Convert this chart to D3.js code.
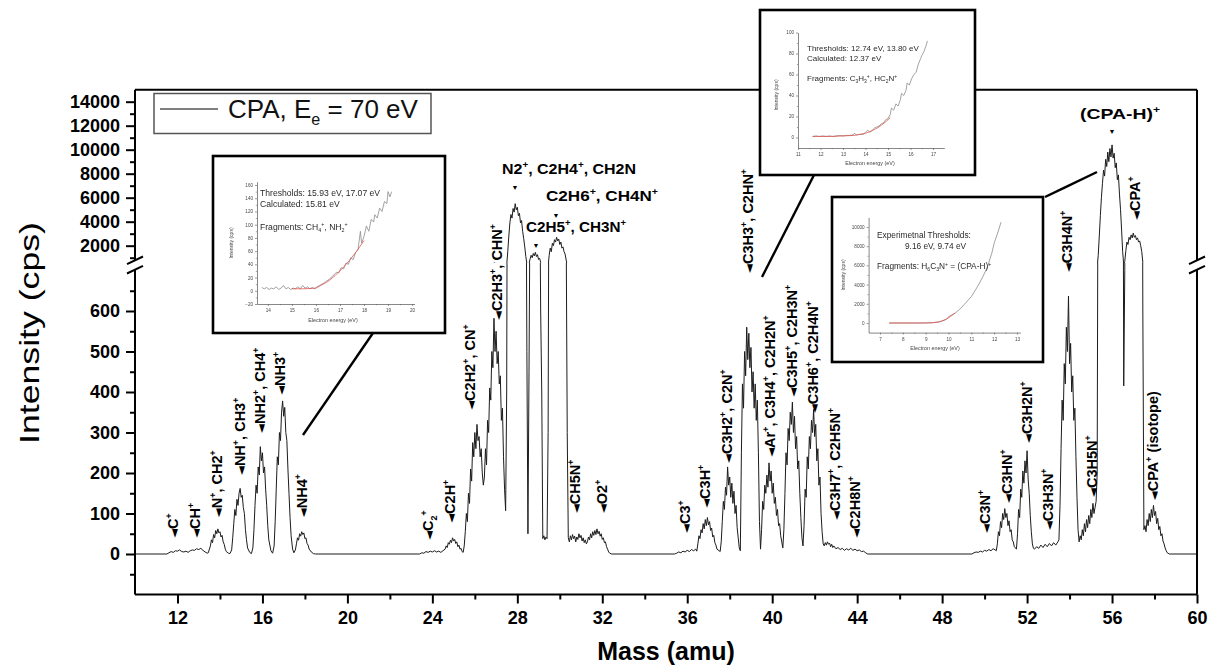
<!DOCTYPE html>
<html>
<head>
<meta charset="utf-8">
<script src="https://cdn.jsdelivr.net/npm/d3@7"></script>
<style>
  body { margin: 0; background: #fff; }
  svg { display: block; }
  text { font-family: "Liberation Sans", Arial, "DejaVu Sans", sans-serif; }
</style>
</head>
<body>
<svg id="chart" width="1208" height="665"></svg>
<script>
// ---------- Mass spectrum of CPA at 70 eV: [mass (amu), intensity (cps)] ----------
const lightIonPeaks = [
  [10.0,0],[11.5,0],[11.6,3],[11.7,6],[11.8,4],[11.9,8],[12.0,7],[12.1,10],[12.2,6],[12.3,5],[12.4,7],[12.5,4],
  [12.6,8],[12.7,10],[12.8,9],[12.9,13],[13.0,11],[13.1,14],[13.2,9],[13.3,5],[13.4,2],
  [13.45,3],[13.55,20],[13.6,35],[13.65,28],[13.7,48],[13.75,40],[13.8,58],[13.85,50],[13.9,62],[13.95,52],[14.0,55],
  [14.05,42],[14.1,46],[14.15,30],[14.2,24],[14.25,12],[14.3,6],[14.4,2],[14.47,1],
  [14.55,10],[14.6,40],[14.65,75],[14.7,110],[14.75,95],[14.8,135],[14.85,120],[14.9,150],[14.95,162],[15.0,140],
  [15.05,145],[15.1,115],[15.15,100],[15.2,60],[15.25,35],[15.3,15],[15.4,4],[15.48,1],
  [15.55,15],[15.6,60],[15.65,120],[15.7,170],[15.75,150],[15.8,215],[15.85,195],[15.9,265],[15.95,230],[16.0,250],
  [16.05,200],[16.1,215],[16.15,160],[16.2,120],[16.25,70],[16.3,35],[16.4,8],[16.48,2],
  [16.55,20],[16.6,80],[16.65,160],[16.7,240],[16.75,220],[16.8,300],[16.85,280],[16.9,350],[16.95,378],[17.0,340],
  [17.05,362],[17.1,300],[17.15,280],[17.2,210],[17.25,150],[17.3,90],[17.35,45],[17.42,12],[17.48,3],
  [17.55,10],[17.6,25],[17.65,40],[17.7,34],[17.75,50],[17.8,44],[17.85,55],[17.9,48],[17.95,52],[18.0,38],
  [18.05,40],[18.1,26],[18.15,22],[18.2,12],[18.3,5],[18.4,1],[18.5,0]
];
const c2Peaks = [
  [23.4,0],[23.5,3],[23.6,2],[23.7,6],[23.8,4],[23.9,7],[24.0,5],[24.1,8],[24.2,5],[24.3,7],[24.4,4],[24.5,8],
  [24.6,12],[24.65,20],[24.7,16],[24.75,28],[24.8,24],[24.85,34],[24.9,28],[24.95,40],[25.0,32],[25.05,36],[25.1,26],
  [25.15,30],[25.2,18],[25.25,22],[25.3,12],[25.35,14],[25.4,6],[25.45,4],
  [25.5,20],[25.55,55],[25.6,100],[25.65,80],[25.7,150],[25.75,125],[25.8,210],[25.85,180],[25.9,275],[25.95,240],
  [26.0,300],[26.05,260],[26.1,320],[26.15,280],[26.2,290],[26.25,240],[26.3,260],[26.35,200],[26.4,170],
  [26.45,190],[26.5,260],[26.55,220],[26.6,330],[26.65,300],[26.7,410],[26.75,380],[26.8,500],[26.85,460],[26.9,582],
  [26.95,500],[27.0,550],[27.05,470],[27.1,500],[27.15,420],[27.2,440],[27.25,330],[27.3,360],[27.35,240],[27.4,160],[27.45,107],
  [27.5,400],[27.55,1500],[27.6,2800],[27.65,3900],[27.7,4600],[27.75,4300],[27.8,5100],[27.85,4800],[27.9,5500],
  [27.95,5000],[28.0,5200],[28.05,4500],[28.1,4700],[28.15,3900],[28.2,4100],[28.25,3200],[28.3,2600],[28.35,1900],
  [28.4,1100],[28.45,500],[28.5,50],
  [28.55,450],[28.6,900],[28.65,1200],[28.7,1000],[28.75,1350],[28.8,1150],[28.85,1450],[28.9,1100],[28.95,1250],
  [29.0,850],[29.05,950],[29.1,600],[29.15,400],[29.2,38],[29.25,45],[29.3,35],[29.35,42],[29.4,38],[29.45,300],
  [29.5,1200],[29.55,1800],[29.6,1500],[29.65,2200],[29.7,2000],[29.75,2500],[29.8,2300],[29.85,2700],[29.9,2400],
  [29.95,2550],[30.0,2100],[30.05,2300],[30.1,1800],[30.15,1900],[30.2,1500],[30.25,1300],[30.3,800],[30.35,300],[30.4,40],
  [30.45,30],[30.5,45],[30.55,35],[30.6,48],[30.65,38],[30.7,44],[30.75,30],[30.8,42],[30.85,36],[30.9,50],[30.95,40],
  [31.0,46],[31.05,32],[31.1,40],[31.15,28],[31.2,35],[31.25,25],
  [31.3,30],[31.35,42],[31.4,35],[31.45,50],[31.5,40],[31.55,55],[31.6,46],[31.65,58],[31.7,48],[31.75,62],[31.8,50],
  [31.85,56],[31.9,44],[31.95,50],[32.0,36],[32.05,40],[32.1,28],[32.15,30],[32.2,18],[32.25,12],[32.3,5],[32.35,2],[32.45,0]
];
const c3Peaks = [
  [35.4,0],[35.5,2],[35.6,5],[35.7,3],[35.8,7],[35.9,5],[36.0,9],[36.1,6],[36.2,11],[36.3,8],[36.4,12],[36.45,7],
  [36.5,25],[36.55,45],[36.6,38],[36.65,60],[36.7,52],[36.75,75],[36.8,62],[36.85,85],[36.9,70],[36.95,90],[37.0,72],
  [37.05,80],[37.1,58],[37.15,64],[37.2,42],[37.25,46],[37.3,28],[37.35,22],[37.4,12],[37.5,8],[37.55,6],
  [37.6,30],[37.65,80],[37.7,130],[37.75,110],[37.8,165],[37.85,145],[37.9,215],[37.95,170],[38.0,190],[38.05,140],
  [38.1,175],[38.15,125],[38.2,155],[38.25,100],[38.3,120],[38.35,65],[38.4,40],[38.45,15],[38.5,8],
  [38.55,250],[38.6,420],[38.65,360],[38.7,500],[38.75,440],[38.8,560],[38.85,480],[38.9,545],[38.95,460],[39.0,510],
  [39.05,400],[39.1,450],[39.15,360],[39.2,420],[39.25,330],[39.3,380],[39.35,250],[39.4,80],[39.45,12],
  [39.5,60],[39.55,130],[39.6,110],[39.65,170],[39.7,150],[39.75,195],[39.8,165],[39.85,225],[39.9,180],[39.95,205],
  [40.0,150],[40.05,175],[40.1,125],[40.15,140],[40.2,95],[40.25,110],[40.3,70],[40.35,75],[40.4,45],[40.45,30],[40.5,15],
  [40.55,60],[40.6,150],[40.65,250],[40.7,220],[40.75,310],[40.8,280],[40.85,350],[40.9,320],[40.95,375],[41.0,300],
  [41.05,340],[41.1,260],[41.15,290],[41.2,210],[41.25,230],[41.3,150],[41.35,90],[41.4,40],[41.45,20],
  [41.5,70],[41.55,160],[41.6,140],[41.65,240],[41.7,210],[41.75,290],[41.8,260],[41.85,330],[41.9,300],[41.95,357],
  [42.0,290],[42.05,320],[42.1,230],[42.15,260],[42.2,170],[42.25,190],[42.3,100],[42.35,55],[42.4,25],
  [42.45,20],[42.5,28],[42.55,22],[42.6,30],[42.65,24],[42.7,27],[42.75,18],[42.8,24],[42.85,16],[42.9,20],[43.0,13],
  [43.1,16],[43.2,11],[43.3,14],
  [43.4,9],[43.5,13],[43.6,10],[43.7,14],[43.8,9],[43.9,12],[44.0,8],[44.1,10],[44.2,6],[44.3,7],[44.4,3],[44.5,0]
];
const c3nPeaks = [
  [49.4,0],[49.5,3],[49.6,5],[49.7,4],[49.8,7],[49.9,5],[50.0,9],[50.1,7],[50.2,11],[50.3,8],[50.4,13],[50.5,10],[50.55,8],
  [50.6,25],[50.65,55],[50.7,45],[50.75,80],[50.8,65],[50.85,100],[50.9,85],[50.95,112],[51.0,90],[51.05,100],[51.1,70],
  [51.15,82],[51.2,55],[51.25,60],[51.3,35],[51.35,30],[51.4,18],[51.5,12],
  [51.55,50],[51.6,110],[51.65,90],[51.7,160],[51.75,140],[51.8,205],[51.85,175],[51.9,230],[51.95,200],[52.0,255],
  [52.05,185],[52.1,150],[52.15,95],[52.2,55],[52.25,25],[52.3,14],
  [52.35,12],[52.45,18],[52.55,14],[52.65,22],[52.75,16],[52.85,24],[52.95,18],[53.05,26],[53.15,20],[53.25,28],
  [53.35,22],[53.45,30],[53.5,35],
  [53.55,120],[53.6,260],[53.65,380],[53.7,330],[53.75,470],[53.8,420],[53.85,560],[53.9,500],[53.95,637],[54.0,470],
  [54.05,520],[54.1,400],[54.15,440],[54.2,330],[54.25,360],[54.3,240],[54.35,140],[54.4,60],[54.45,30],
  [54.5,45],[54.55,35],[54.6,60],[54.65,45],[54.7,75],[54.75,55],[54.8,85],[54.85,65],[54.9,95],[54.95,75],[55.0,110],
  [55.05,90],[55.1,125],[55.15,100],[55.2,115],[55.25,130],[55.3,200],
  [55.35,1200],[55.4,2800],[55.45,4500],[55.5,6000],[55.55,7200],[55.6,8300],[55.65,7800],[55.7,9200],[55.75,8600],
  [55.8,9800],[55.85,9000],[55.9,10100],[55.95,9400],[56.0,10400],[56.05,9300],[56.1,9700],[56.15,8500],[56.2,8900],
  [56.25,7500],[56.3,7900],[56.35,6300],[56.4,5000],[56.45,3300],[56.5,1500],[56.55,415],
  [56.6,700],[56.65,1600],[56.7,2300],[56.75,2100],[56.8,2700],[56.85,2500],[56.9,2900],[56.95,2650],[57.0,3050],
  [57.05,2700],[57.1,2850],[57.15,2500],[57.2,2650],[57.25,2300],[57.3,2400],[57.35,2000],[57.4,1500],[57.45,600],[57.5,60],
  [57.55,70],[57.6,55],[57.65,85],[57.7,70],[57.75,100],[57.8,80],[57.85,110],[57.9,90],[57.95,120],[58.0,95],
  [58.05,105],[58.1,75],[58.15,88],[58.2,60],[58.25,68],[58.3,45],[58.35,50],[58.4,32],[58.45,25],[58.5,15],
  [58.55,8],[58.6,3],[58.7,0],[60.0,0]
];
const spectrum = [].concat(lightIonPeaks, c2Peaks, c3Peaks, c3nPeaks);

// ---------- axis ticks ----------
const massTicks = [12,16,20,24,28,32,36,40,44,48,52,56,60];
const massMinorTicks = [14,18,22,26,30,34,38,42,46,50,54,58];
const lowTicks = [0,100,200,300,400,500,600];
const lowMinorTicks = [-50,50,150,250,350,450,550,650];
const highTicks = [2000,4000,6000,8000,10000,12000,14000];
const highMinorTicks = [1000,3000,5000,7000,9000,11000,13000];

// ---------- fragment annotations ("^+" superscript, "_2" subscript) ----------
// vertical labels: mass, intensity at label foot (lower panel unless high=true)
const verticalLabels = [
  {m:11.79, v:40,  t:"C^+"},
  {m:12.82, v:40,  t:"CH^+"},
  {m:13.86, v:91,  t:"N^+, CH2^+"},
  {m:14.94, v:195, t:"NH^+, CH3^+"},
  {m:15.89, v:299, t:"NH2^+, CH4^+"},
  {m:16.83, v:393, t:"NH3^+"},
  {m:17.86, v:91,  t:"NH4^+"},
  {m:23.79, v:35,  t:"C_2^+"},
  {m:24.83, v:77,  t:"C2H^+"},
  {m:25.77, v:356, t:"C2H2^+, CN^+"},
  {m:27.04, v:578, t:"C2H3^+, CHN^+"},
  {m:30.72, v:101, t:"CH5N^+"},
  {m:31.99, v:101, t:"O2^+"},
  {m:35.89, v:52,  t:"C3^+"},
  {m:36.83, v:114, t:"C3H^+"},
  {m:37.87, v:225, t:"C3H2^+, C2N^+"},
  {m:38.86, v:694, t:"C3H3^+, C2HN^+"},
  {m:39.90, v:240, t:"Ar^+, C3H4^+, C2H2N^+"},
  {m:40.93, v:388, t:"C3H5^+, C2H3N^+"},
  {m:41.92, v:348, t:"C3H6^+, C2H4N^+"},
  {m:42.96, v:84,  t:"C3H7^+, C2H5N^+"},
  {m:43.90, v:40,  t:"C2H8N^+"},
  {m:50.02, v:52,  t:"C3N^+"},
  {m:51.05, v:126, t:"C3HN^+"},
  {m:52.00, v:274, t:"C3H2N^+"},
  {m:52.99, v:59,  t:"C3H3N^+"},
  {m:53.88, v:696, t:"C3H4N^+"},
  {m:55.06, v:141, t:"C3H5N^+"},
  {m:57.93, v:133, t:"CPA^+ (isotope)"},
  {m:57.08, v:4142, t:"CPA^+", high:true}
];
// horizontal labels (upper panel): left mass, baseline intensity, fitted width
const horizontalLabels = [
  {m:27.28, v:7975,  t:"N2^+, C2H4^+, CH2N", w:134},
  {m:29.35, v:5700,  t:"C2H6^+, CH4N^+", w:112},
  {m:28.41, v:3140,  t:"C2H5^+, CH3N^+", w:100},
  {m:54.49, v:12558, t:"(CPA-H)^+", w:80}
];
const peakMarkers = [
  {m:27.89, v:6642}, {m:29.82, v:4308}, {m:28.88, v:1808}, {m:56.0, v:11308}
];

// ---------- ionisation-efficiency insets: [electron energy (eV), intensity (cps)] ----------
const ieCH4Signal = [
  [13.75,5],[13.85,3],[13.95,5],[14.05,2],[14.15,4],[14.25,3],[14.35,6],[14.45,2],[14.55,4],[14.65,8],[14.75,3],
  [14.85,5],[14.95,2],[15.05,4],[15.15,3],[15.25,6],[15.35,3],[15.45,8],[15.55,4],[15.65,6],[15.75,3],[15.85,5],
  [15.95,3],[16.05,6],[16.15,8],[16.25,10],[16.35,12],[16.45,15],[16.55,17],[16.65,21],[16.75,24],[16.85,28],
  [16.95,27],[17.05,35],[17.15,33],[17.25,42],[17.35,40],[17.45,50],[17.55,47],[17.65,58],[17.75,62],[17.85,90],
  [17.9,72],[18.0,82],[18.1,98],[18.2,90],[18.3,108],[18.4,104],[18.45,115],[18.55,110],[18.65,125],[18.75,120],
  [18.85,135],[18.95,132],[19.0,150],[19.08,142],[19.15,150]
];
const ieCH4Fit = [[15.0,3],[15.5,3],[16.0,4],[16.2,8],[16.5,14],[16.8,23],[17.1,34],[17.4,46],[17.7,60],[18.0,76]];
const ieC3H3Signal = [
  [11.65,1],[11.8,1.5],[11.95,1],[12.1,1.5],[12.25,1],[12.4,1.5],[12.55,1],[12.7,1.5],[12.85,2],[13.0,1.5],[13.15,2],
  [13.3,2],[13.45,2.5],[13.5,4],[13.6,2.5],[13.75,3],[13.9,3],[14.0,5],[14.1,7],[14.2,5],[14.3,7],[14.4,9],[14.5,10],
  [14.6,11],[14.7,13],[14.8,14],[14.9,17],[15.0,18],[15.1,22],[15.15,28],[15.25,26],[15.35,32],[15.45,30],[15.55,36],
  [15.6,42],[15.7,40],[15.8,45],[15.85,52],[15.95,50],[16.05,56],[16.15,60],[16.25,62],[16.35,70],[16.45,75],
  [16.5,78],[16.6,82],[16.7,88],[16.75,92]
];
const ieC3H3Fit = [[11.65,1],[12.5,1],[13.0,1.5],[13.5,2],[14.0,4],[14.3,6.5],[14.6,10],[14.9,15],[15.1,19]];
const ieCPAHSignal = [
  [7.4,0],[8.0,0],[8.5,0],[9.0,5],[9.3,30],[9.5,80],[9.7,180],[9.9,380],[10.0,650],[10.3,1050],[10.5,1450],
  [10.7,1950],[11.0,2750],[11.3,3900],[11.5,4800],[11.7,5800],[11.9,7300],[12.0,8300],[12.2,9700],[12.3,10500]
];
const ieCPAHFit = [[7.4,0],[8.5,0],[9.0,5],[9.3,30],[9.6,120],[9.9,380],[10.1,700],[10.3,1050]];

// ---------- scales ----------
const svg = d3.select("#chart");
const x = d3.scaleLinear().domain([10, 60]).range([135, 1197]);
const yLow = d3.scaleLinear().domain([-100, 700]).range([594.5, 270.5]);
const yHigh = d3.scaleLinear().domain([2000, 15000]).range([245.7, 89.7]);
const plotLeft = 135, plotRight = 1197, plotTop = 89.7, plotBottom = 594.5;
const breakLow = 269.7, breakHigh = 260.3, breakMid = 263;

// rich text helper: "^c" superscript char, "_c" subscript char
function rich(textSel, str, fs) {
  const tokens = str.split(/(\^.|_.)/).filter(s => s !== "");
  let shift = 0;
  tokens.forEach(tok => {
    let target = 0, txt = tok, size = null;
    if (tok[0] === "^") { target = -fs * 0.42; txt = tok[1]; size = fs * 0.62; }
    else if (tok[0] === "_") { target = fs * 0.28; txt = tok[1]; size = fs * 0.62; }
    const ts = textSel.append("tspan").attr("dy", target - shift).text(txt);
    if (size) ts.attr("font-size", size);
    shift = target;
  });
}

// ---------- clip regions for the broken axis ----------
const defs = svg.append("defs");
defs.append("clipPath").attr("id", "clipLow").append("rect")
  .attr("x", plotLeft).attr("y", breakMid).attr("width", plotRight - plotLeft).attr("height", plotBottom - breakMid);
defs.append("clipPath").attr("id", "clipHigh").append("rect")
  .attr("x", plotLeft).attr("y", plotTop).attr("width", plotRight - plotLeft).attr("height", breakMid - plotTop);
const soft = defs.append("filter").attr("id", "soft").attr("x", "-5%").attr("y", "-5%").attr("width", "110%").attr("height", "110%");
soft.append("feGaussianBlur").attr("stdDeviation", 0.35);

// ---------- spectrum ----------
const lineLow = d3.line().x(d => x(d[0])).y(d => yLow(d[1]));
const lineHigh = d3.line().x(d => x(d[0])).y(d => yHigh(d[1]));
svg.append("path").datum(spectrum).attr("clip-path", "url(#clipLow)")
  .attr("d", lineLow).attr("fill", "none").attr("stroke", "#1c1c1c").attr("stroke-width", 1);
svg.append("path").datum(spectrum).attr("clip-path", "url(#clipHigh)")
  .attr("d", lineHigh).attr("fill", "none").attr("stroke", "#1c1c1c").attr("stroke-width", 1);

// ---------- frame and axes ----------
const frame = svg.append("g").attr("stroke", "#000").attr("stroke-width", 2).attr("fill", "none");
frame.append("line").attr("x1", plotLeft).attr("x2", plotRight).attr("y1", plotBottom).attr("y2", plotBottom);
frame.append("line").attr("x1", plotLeft).attr("x2", plotRight).attr("y1", plotTop).attr("y2", plotTop);
[plotLeft, plotRight].forEach(px => {
  frame.append("line").attr("x1", px).attr("x2", px).attr("y1", plotBottom).attr("y2", breakLow);
  frame.append("line").attr("x1", px).attr("x2", px).attr("y1", breakHigh).attr("y2", plotTop);
  [breakHigh, breakLow].forEach(by => {
    frame.append("line").attr("x1", px - 8).attr("y1", by + 3.8).attr("x2", px + 8).attr("y2", by - 3.8);
  });
});

function styleAxis(g, fs) {
  g.select(".domain").remove();
  g.selectAll(".tick line").attr("stroke", "#000").attr("stroke-width", 2);
  g.selectAll(".tick text").attr("font-size", fs).attr("font-weight", "bold").attr("fill", "#000")
    .attr("font-family", "'Liberation Sans', Arial, sans-serif");
}
// x axis
svg.append("g").attr("transform", `translate(0,${plotBottom})`)
  .call(d3.axisBottom(x).tickValues(massTicks).tickSize(9).tickPadding(8).tickFormat(d3.format("d")))
  .call(g => styleAxis(g, 18));
svg.append("g").attr("transform", `translate(0,${plotBottom})`)
  .call(d3.axisBottom(x).tickValues(massMinorTicks).tickSize(5).tickFormat(""))
  .call(g => styleAxis(g, 18));
// y axis, lower segment
svg.append("g").attr("transform", `translate(${plotLeft},0)`)
  .call(d3.axisLeft(yLow).tickValues(lowTicks).tickSize(9).tickPadding(6).tickFormat(d3.format("d")))
  .call(g => styleAxis(g, 18));
svg.append("g").attr("transform", `translate(${plotLeft},0)`)
  .call(d3.axisLeft(yLow).tickValues(lowMinorTicks).tickSize(5).tickFormat(""))
  .call(g => styleAxis(g, 18));
// y axis, upper segment
svg.append("g").attr("transform", `translate(${plotLeft},0)`)
  .call(d3.axisLeft(yHigh).tickValues(highTicks).tickSize(9).tickPadding(6).tickFormat(d3.format("d")))
  .call(g => styleAxis(g, 18));
svg.append("g").attr("transform", `translate(${plotLeft},0)`)
  .call(d3.axisLeft(yHigh).tickValues(highMinorTicks).tickSize(5).tickFormat(""))
  .call(g => styleAxis(g, 18));

// axis titles
svg.append("text").attr("transform", "translate(39,333) rotate(-90)")
  .attr("text-anchor", "middle").attr("font-size", 28).attr("fill", "#000")
  .attr("textLength", 222).attr("lengthAdjust", "spacingAndGlyphs").text("Intensity (cps)");
svg.append("text").attr("x", 666).attr("y", 660).attr("text-anchor", "middle")
  .attr("font-size", 25).attr("font-weight", "bold").attr("fill", "#000").text("Mass (amu)");

// ---------- fragment labels ----------
const labelFs = 14.5;
verticalLabels.forEach(L => {
  const px = x(L.m), py = L.high ? yHigh(L.v) : yLow(L.v);
  const t = svg.append("text")
    .attr("transform", `translate(${px},${py}) rotate(-90)`)
    .attr("y", labelFs * 0.36).attr("font-size", labelFs).attr("font-weight", "bold").attr("fill", "#000");
  t.append("tspan").attr("font-size", labelFs * 0.8).attr("font-family", "'DejaVu Sans', sans-serif").text("\u25C4");
  rich(t, L.t, labelFs);
});
horizontalLabels.forEach(L => {
  const t = svg.append("text").attr("x", x(L.m)).attr("y", yHigh(L.v))
    .attr("font-size", 15).attr("font-weight", "bold").attr("fill", "#000")
    .attr("textLength", L.w).attr("lengthAdjust", "spacingAndGlyphs");
  rich(t, L.t, 15);
});
peakMarkers.forEach(P => {
  svg.append("text").attr("x", x(P.m)).attr("y", yHigh(P.v)).attr("text-anchor", "middle")
    .attr("font-size", 7).attr("font-family", "'DejaVu Sans', sans-serif").attr("fill", "#000").text("\u25BC");
});

// ---------- legend ----------
const legend = svg.append("g");
legend.append("rect").attr("x", 154).attr("y", 93.5).attr("width", 277).attr("height", 40)
  .attr("fill", "#fff").attr("stroke", "#555").attr("stroke-width", 1.5);
legend.append("line").attr("x1", 160).attr("x2", 218).attr("y1", 109).attr("y2", 109)
  .attr("stroke", "#555").attr("stroke-width", 1.3);
const legText = legend.append("text").attr("x", 228).attr("y", 118).attr("font-size", 26).attr("fill", "#111");
rich(legText, "CPA, E_e = 70 eV", 26);

// ---------- insets ----------
function drawInset(cfg) {
  const g = svg.append("g");
  g.append("rect").attr("x", cfg.box[0]).attr("y", cfg.box[1])
    .attr("width", cfg.box[2] - cfg.box[0]).attr("height", cfg.box[3] - cfg.box[1])
    .attr("fill", "#fff").attr("stroke", "#000").attr("stroke-width", 2.6);
  const inner = g.append("g").attr("filter", "url(#soft)");
  const sx = d3.scaleLinear().domain(cfg.xDomain).range(cfg.xRange);
  const sy = d3.scaleLinear().domain(cfg.yDomain).range(cfg.yRange);
  const tickStyle = sel => {
    sel.select(".domain").attr("stroke", "#555").attr("stroke-width", 0.7);
    sel.selectAll(".tick line").attr("stroke", "#555").attr("stroke-width", 0.6);
    sel.selectAll(".tick text").attr("font-size", 4.6).attr("fill", "#444")
      .attr("font-family", "'Liberation Sans', Arial, sans-serif");
  };
  inner.append("g").attr("transform", `translate(0,${cfg.yRange[0]})`)
    .call(d3.axisBottom(sx).tickValues(cfg.xTicks).tickSize(2).tickSizeOuter(0).tickPadding(3).tickFormat(d3.format("d")))
    .call(tickStyle);
  inner.append("g").attr("transform", `translate(0,${cfg.yRange[0]})`)
    .call(d3.axisBottom(sx).tickValues(cfg.xMinor).tickSize(1.2).tickFormat(""))
    .call(s => { s.select(".domain").remove(); s.selectAll(".tick line").attr("stroke", "#555").attr("stroke-width", 0.5); });
  inner.append("g").attr("transform", `translate(${cfg.xRange[0]},0)`)
    .call(d3.axisLeft(sy).tickValues(cfg.yTicks).tickSize(2).tickSizeOuter(0).tickPadding(2).tickFormat(d3.format("d")))
    .call(tickStyle);
  inner.append("g").attr("transform", `translate(${cfg.xRange[0]},0)`)
    .call(d3.axisLeft(sy).tickValues(cfg.yMinor).tickSize(1.2).tickFormat(""))
    .call(s => { s.select(".domain").remove(); s.selectAll(".tick line").attr("stroke", "#555").attr("stroke-width", 0.5); });
  const ln = d3.line().x(d => sx(d[0])).y(d => sy(d[1]));
  inner.append("path").datum(cfg.signal).attr("d", ln).attr("fill", "none").attr("stroke", "#8c8c8c").attr("stroke-width", 0.8);
  inner.append("path").datum(cfg.fit).attr("d", ln).attr("fill", "none").attr("stroke", "#e0554f").attr("stroke-width", 0.8);
  inner.append("text").attr("transform", `translate(${cfg.yLabel[0]},${cfg.yLabel[1]}) rotate(-90)`)
    .attr("text-anchor", "middle").attr("font-size", 5).attr("fill", "#444").text("Intensity (cps)");
  inner.append("text").attr("x", cfg.xLabel[0]).attr("y", cfg.xLabel[1])
    .attr("text-anchor", "middle").attr("font-size", 5.4).attr("fill", "#444").text("Electron energy (eV)");
  cfg.notes.forEach(n => {
    const t = inner.append("text").attr("x", n[0]).attr("y", n[1]).attr("font-size", cfg.noteFs).attr("fill", "#2a2a2a");
    rich(t, n[2], cfg.noteFs);
  });
}

drawInset({
  box: [213, 156, 445, 333],
  xDomain: [13.55, 20.1], xRange: [257, 414.5],
  yDomain: [-20, 165], yRange: [304, 181.7],
  xTicks: [14,15,16,17,18,19,20], xMinor: [14.5,15.5,16.5,17.5,18.5,19.5],
  yTicks: [-20,0,20,40,60,80,100,120,140,160], yMinor: [-10,10,30,50,70,90,110,130,150],
  signal: ieCH4Signal, fit: ieCH4Fit,
  yLabel: [233, 243], xLabel: [333, 322],
  noteFs: 8.6,
  notes: [[260, 196, "Thresholds: 15.93 eV, 17.07 eV"], [260, 206.5, "Calculated: 15.81 eV"], [260, 230, "Fragments: CH_4^+, NH_2^+"]]
});
drawInset({
  box: [760, 10, 975, 175],
  xDomain: [11, 17.5], xRange: [798, 944.25],
  yDomain: [-10, 100], yRange: [148, 32.5],
  xTicks: [11,12,13,14,15,16,17], xMinor: [11.5,12.5,13.5,14.5,15.5,16.5],
  yTicks: [0,20,40,60,80,100], yMinor: [10,30,50,70,90],
  signal: ieC3H3Signal, fit: ieC3H3Fit,
  yLabel: [778, 95], xLabel: [870, 165],
  noteFs: 8,
  notes: [[807, 51, "Thresholds: 12.74 eV, 13.80 eV"], [807, 61, "Calculated: 12.37 eV"], [807, 81, "Fragments: C_3H_3^+, HC_2N^+"]]
});
drawInset({
  box: [832, 197, 1043, 362],
  xDomain: [6.5, 13.15], xRange: [868.6, 1020.4],
  yDomain: [-1000, 11000], yRange: [332.6, 217.4],
  xTicks: [7,8,9,10,11,12,13], xMinor: [7.5,8.5,9.5,10.5,11.5,12.5],
  yTicks: [0,2000,4000,6000,8000,10000], yMinor: [1000,3000,5000,7000,9000],
  signal: ieCPAHSignal, fit: ieCPAHFit,
  yLabel: [845, 275], xLabel: [935, 350],
  noteFs: 8.3,
  notes: [[877, 238, "Experimetnal Thresholds:"], [905, 248.5, "9.16 eV, 9.74 eV"], [877, 269, "Fragments: H_6C_3N^+ = (CPA-H)^+"]]
});

// ---------- leader lines from insets to their peaks ----------
const leaders = svg.append("g").attr("stroke", "#000").attr("stroke-width", 2.4);
leaders.append("line").attr("x1", 303).attr("y1", 435).attr("x2", 373).attr("y2", 333);
leaders.append("line").attr("x1", 762).attr("y1", 277).attr("x2", 814).attr("y2", 175);
leaders.append("line").attr("x1", 1045).attr("y1", 197).attr("x2", 1097).attr("y2", 172);
</script>
</body>
</html>
